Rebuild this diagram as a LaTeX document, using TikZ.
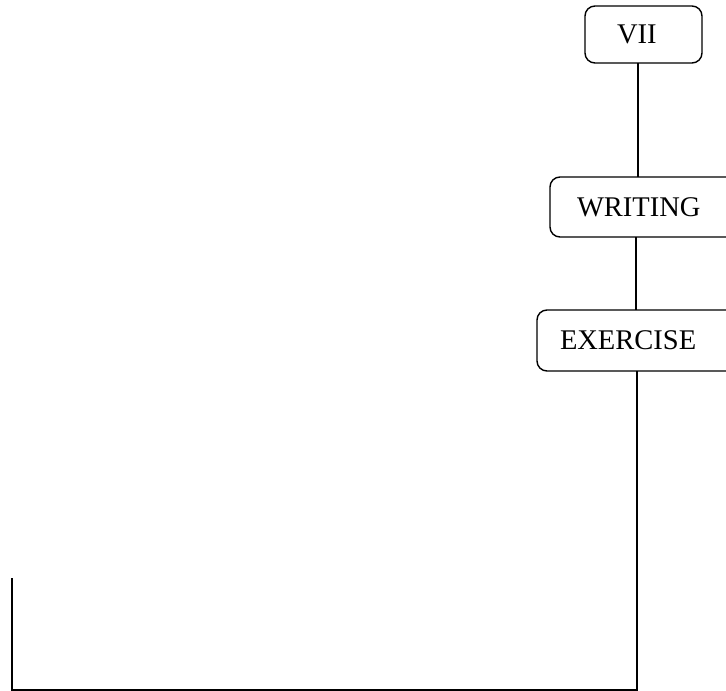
\documentclass[tikz,border=0pt]{standalone}
\usepackage{fontspec}
\setmainfont{Liberation Serif}
\begin{document}
\begin{tikzpicture}[x=1pt,y=-1pt,
  box/.style={draw, line width=1.4pt, rounded corners=10pt, outer sep=0pt,
    font=\fontsize{28.5}{34}\selectfont, align=left, anchor=north west, inner ysep=0pt},
  conn/.style={line width=1.6pt}]
\useasboundingbox (0,0) rectangle (726,691);
\clip (0,0) rectangle (726,691);
\node[box, inner xsep=32pt, text width=53pt, minimum height=57pt] (vii) at (585,6) {VII};
\node[box, inner xsep=27pt, text width=135pt, minimum height=60pt] (writing) at (550,177) {WRITING};
\node[box, inner xsep=23pt, text width=170pt, minimum height=61pt] (exercise) at (537,310) {EXERCISE};
\coordinate (b1) at (637,690);
\coordinate (b2) at (12,690);
\coordinate (tipL) at (12,578);
\draw[conn] (638,0 |- vii.south) -- (638,0 |- writing.north);
\draw[conn] (636,0 |- writing.south) -- (636,0 |- exercise.north);
\draw[conn] (637,0 |- exercise.south) -- (b1) -- (b2) -- (tipL);
\end{tikzpicture}
\end{document}
